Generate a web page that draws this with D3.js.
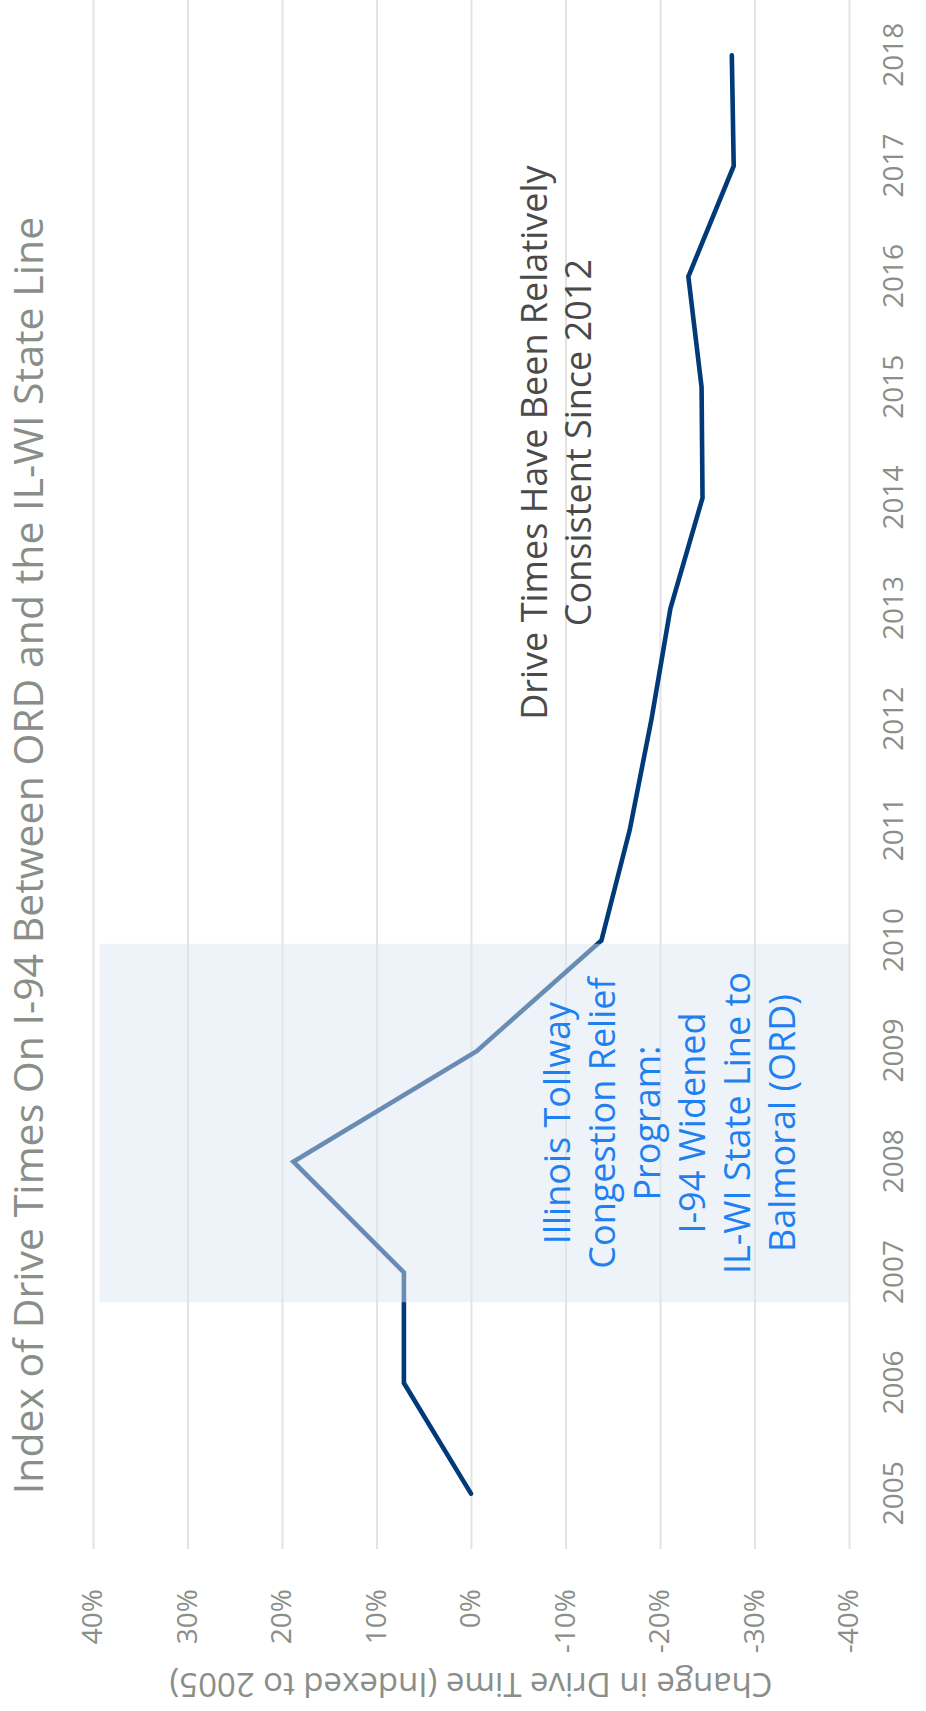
<!DOCTYPE html>
<html>
<head>
<meta charset="utf-8">
<script src="https://cdn.jsdelivr.net/npm/d3@7"></script>
<style>
  html, body { margin: 0; padding: 0; background: #ffffff; }
  svg { display: block; }
  text { font-family: "Open Sans", "Noto Sans", sans-serif; }
</style>
</head>
<body>
<div id="chart"></div>
<script>
// Drive-time index, one value per year (percent change vs. 2005)
const years = [2005, 2006, 2007, 2008, 2009, 2010, 2011, 2012, 2013, 2014, 2015, 2016, 2017, 2018];
const changePct = [0, 7.1, 7.1, 18.8, -0.6, -13.8, -16.8, -19.1, -21.1, -24.5, -24.4, -23.0, -27.8, -27.6];
const pctTicks = [40, 30, 20, 10, 0, -10, -20, -30, -40];

// Construction period band (fractional years) and its upper edge (percent)
const bandYears = [2006.73, 2009.97];
const bandTopPct = 39.3;

const titleText = "Index of Drive Times On I-94 Between ORD and the IL-WI State Line";
const axisTitleText = "Change in Drive Time (Indexed to 2005)";
const bandNoteLines = ["Illinois Tollway", "Congestion Relief", "Program:", "I-94 Widened", "IL-WI State Line to", "Balmoral (ORD)"];
const trendNoteLines = ["Drive Times Have Been Relatively", "Consistent Since 2012"];
const trendNoteAt = { year: 2014.5, pct: -9.0 };

// The chart is laid out landscape and then turned a quarter turn counter-clockwise
const PAGE_W = 926, PAGE_H = 1711;
const W = PAGE_H, H = PAGE_W;
const plot = { left: 162, right: W, top: 93, bottom: 849 };

const svg = d3.select("#chart").append("svg")
  .attr("width", PAGE_W).attr("height", PAGE_H);

const g = svg.append("g")
  .attr("transform", `translate(0,${PAGE_H}) rotate(-90)`);

const x = d3.scaleLinear().domain([2004.5, 2018.5]).range([plot.left, plot.right]);
const y = d3.scaleLinear().domain([-40, 40]).range([plot.bottom, plot.top]);

const grey = "#898e89";

// Gridlines
const grid = g.append("g")
  .attr("transform", `translate(${plot.left},0)`)
  .call(d3.axisLeft(y).tickValues(pctTicks).tickSize(-(plot.right - plot.left)).tickFormat(""));
grid.select(".domain").remove();
grid.selectAll(".tick line").attr("stroke", "#e3e3e3").attr("stroke-width", 2);

// Percent axis labels
const yAxis = g.append("g")
  .attr("transform", `translate(${plot.left},0)`)
  .call(d3.axisLeft(y).tickValues(pctTicks).tickSize(0).tickPadding(40).tickFormat(d => d + "%"));
yAxis.select(".domain").remove();
yAxis.selectAll("text")
  .attr("fill", grey).attr("font-size", 28)
  .style("font-family", "'Open Sans', sans-serif");

// Year axis labels
const xAxis = g.append("g")
  .attr("transform", `translate(0,${plot.bottom})`)
  .call(d3.axisBottom(x).tickValues(years).tickSize(0).tickPadding(34).tickFormat(d3.format("d")));
xAxis.select(".domain").remove();
xAxis.selectAll("text")
  .attr("fill", grey).attr("font-size", 28)
  .style("font-family", "'Open Sans', sans-serif");

// Drive-time line
const line = d3.line()
  .x((d, i) => x(years[i]))
  .y(d => y(d));

g.append("path")
  .datum(changePct)
  .attr("d", line)
  .attr("fill", "none")
  .attr("stroke", "#003a78")
  .attr("stroke-width", 4.6)
  .attr("stroke-linecap", "round")
  .attr("stroke-linejoin", "miter");

// Translucent band over the widening years
g.append("rect")
  .attr("x", x(bandYears[0]))
  .attr("width", x(bandYears[1]) - x(bandYears[0]))
  .attr("y", y(bandTopPct))
  .attr("height", y(-40) - y(bandTopPct))
  .attr("fill", "rgb(220,230,242)")
  .attr("fill-opacity", 0.48);

// Band note, centred in the band
const bandFont = 36, bandLead = 45;
const bandCx = (x(bandYears[0]) + x(bandYears[1])) / 2;
const bandCy = 670;
g.append("text")
  .attr("text-anchor", "middle")
  .attr("fill", "#1f80f0")
  .attr("font-size", bandFont)
  .selectAll("tspan")
  .data(bandNoteLines)
  .join("tspan")
  .attr("x", bandCx)
  .attr("y", (d, i) => bandCy + (i - (bandNoteLines.length - 1) / 2) * bandLead + 0.36 * bandFont)
  .text(d => d);

// Trend note
const noteFont = 36, noteLead = 44;
const noteCx = x(trendNoteAt.year), noteCy = y(trendNoteAt.pct);
g.append("text")
  .attr("text-anchor", "middle")
  .attr("fill", "#4a4a4a")
  .attr("font-size", noteFont)
  .selectAll("tspan")
  .data(trendNoteLines)
  .join("tspan")
  .attr("x", noteCx)
  .attr("y", (d, i) => noteCy + (i - (trendNoteLines.length - 1) / 2) * noteLead + 0.36 * noteFont)
  .text(d => d);

// Title
g.append("text")
  .attr("x", W / 2)
  .attr("y", 43)
  .attr("text-anchor", "middle")
  .attr("fill", grey)
  .attr("font-size", 41)
  .text(titleText);

// Percent axis title
g.append("text")
  .attr("transform", `translate(38,${(plot.top + plot.bottom) / 2}) rotate(-90)`)
  .attr("text-anchor", "middle")
  .attr("fill", grey)
  .attr("font-size", 33)
  .text(axisTitleText);
</script>
</body>
</html>
